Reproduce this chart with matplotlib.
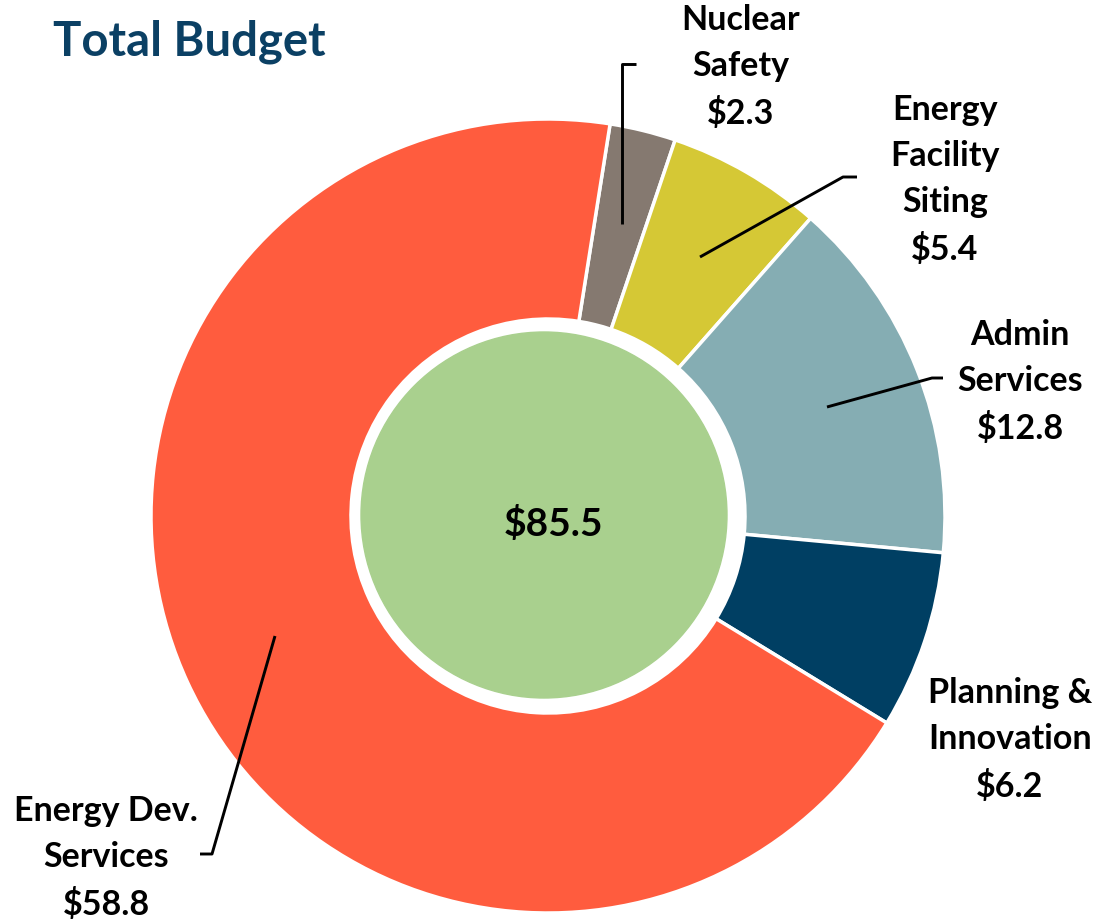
import matplotlib.pyplot as plt
from matplotlib.patches import Circle

# data
labels = ["Nuclear\nSafety", "Energy\nFacility\nSiting", "Admin\nServices",
          "Planning &\nInnovation", "Energy Dev.\nServices"]
values = [2.3, 5.4, 12.8, 6.2, 58.8]
colors = ["#857970", "#D5C835", "#85ADB3", "#003F63", "#FF5C3E"]
total = 85.5

W, H = 1102, 920
fig = plt.figure(figsize=(W / 100, H / 100), dpi=100)
ax = fig.add_axes([0, 0, 1, 1])
ax.set_xlim(0, W)
ax.set_ylim(0, H)
ax.set_aspect("equal")
ax.axis("off")

cx, cy = 548, H - 517
ax.pie(values, colors=colors, startangle=81, counterclock=False,
       center=(cx, cy), radius=397,
       wedgeprops=dict(width=200, edgecolor="white", linewidth=2.5))
ax.add_patch(Circle((544, H - 516), 183, color="#A9D08E", zorder=3))
ax.set_xlim(0, W)
ax.set_ylim(0, H)

font = dict(family=["Lato", "DejaVu Sans"], fontweight="bold", fontsize=24.5,
            color="black", ha="center", va="center", linespacing=1.55)

# label text positions (px, top-down) for each slice
pos = [(741, 67), (945, 180), (1020, 382), (1010, 740), (106, 858)]
for lab, v, (x, y) in zip(labels, values, pos):
    ax.text(x, H - y, f"{lab}\n${v}", zorder=5, **font)

ax.text(553, H - 524, f"${total}", zorder=5,
        **{**font, "fontsize": 28})

# leader lines
leaders = [
    [(622, 225), (622, 65), (636, 65)],
    [(700, 258), (843, 178), (857, 178)],
    [(827, 408), (932, 379), (943, 379)],
    [(275, 637), (212, 855), (200, 855)],
]
for pts in leaders:
    xs = [p[0] for p in pts]
    ys = [H - p[1] for p in pts]
    ax.plot(xs, ys, color="black", lw=2.1, zorder=4, solid_capstyle="butt")

ax.text(53, H - 42, "Total Budget", color="#0B4064", fontsize=34,
        family=["Lato", "DejaVu Sans"], fontweight="bold",
        ha="left", va="center")

fig.savefig("out.png", dpi=100)
